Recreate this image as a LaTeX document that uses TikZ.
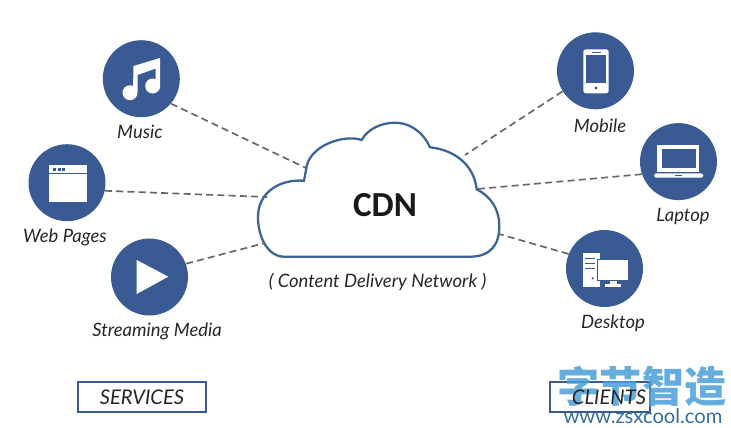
\documentclass[tikz,border=0pt]{standalone}
\usepackage{fontspec}
\setmainfont{Lato}
\newfontfamily\cdnfont{Carlito}
\newfontfamily\cjkfont{Noto Sans CJK SC}
\definecolor{hubblue}{HTML}{3A5A94}
\definecolor{cloudline}{HTML}{3D6496}
\definecolor{dashgray}{HTML}{666666}
\definecolor{markblue}{HTML}{4A9FD8}
\tikzset{
    hub/.style={circle, fill=hubblue, minimum size=1.54cm, inner sep=0pt},
    hand/.style={font=\itshape\fontsize{10.5}{13}\selectfont, text=black!85, inner sep=0pt},
    capshand/.style={font=\itshape\fontsize{11.5}{13}\selectfont, text=black!85, inner sep=0pt},
    link/.style={dash pattern=on 4pt off 2.4pt, dashgray, line width=0.95pt},
    sidebox/.style={draw=hubblue, line width=1.1pt, minimum height=0.6cm, inner sep=0pt, fill=white},
}

\begin{document}
\begin{tikzpicture}[x=0.02cm, y=-0.02cm]
    \useasboundingbox (0,0) rectangle (731,427);

    \node[hub] (music) at (141.3,78.7) {};
    \node[hub] (web) at (67,182.7) {};
    \node[hub] (stream) at (149.5,277) {};
    \node[hub] (mobile) at (595.5,70.8) {};
    \node[hub] (laptop) at (678.5,161.6) {};
    \node[hub] (desktop) at (604.5,268.5) {};

    % cloud
    \draw[cloudline, line width=1.3pt, fill=white] (283.3,256.7) -- (470,256.7)
        .. controls (490,256.7) and (499.3,245) .. (499.3,226.7)
        .. controls (499.3,208) and (490,196) .. (476.7,189.3)
        .. controls (474,165) and (455,150) .. (430,147.3)
        .. controls (422,130) and (408,122.7) .. (395,122.7)
        .. controls (380,122.7) and (367,130) .. (361.7,140)
        .. controls (345,134) and (308,145) .. (306,170)
        -- (304,180.7)
        .. controls (280,179) and (258,192) .. (258,217)
        .. controls (258,240) and (270,256.7) .. (283.3,256.7) -- cycle;

    \coordinate (cloudmusic) at (306,168);
    \coordinate (cloudweb) at (267,197);
    \coordinate (cloudstream) at (265,243);
    \coordinate (cloudmobile) at (465,155);
    \coordinate (cloudlaptop) at (477,189);
    \coordinate (clouddesktop) at (499,234);

    \draw[link] (music.-40) -- (cloudmusic);
    \draw[link] (web.-12) -- (cloudweb);
    \draw[link] (stream.20) -- (cloudstream);
    \draw[link] (mobile.212) -- (cloudmobile);
    \draw[link] (laptop.199) -- (cloudlaptop);
    \draw[link] (desktop.158) -- (clouddesktop);

    % music icon
    \fill[white] (133,92) -- (133.5,66) -- (160,58) -- (160,86) -- (155.7,86)
        -- (155.7,68.5) -- (137.5,75) -- (137.5,92) -- cycle;
    \fill[white] (130,92.7) circle (7.5);
    \fill[white] (152.7,86) circle (7.5);

    % web page icon
    \fill[white] (49.3,165) rectangle (86.7,202.3);
    \draw[hubblue, line width=0.5pt] (49.3,173.3) -- (86.7,173.3);
    \foreach \x in {53,57.5,62} \fill[hubblue] (\x,168) rectangle (\x+3.2,171);

    % play icon
    \fill[white] (136.7,260) -- (168.3,276.7) -- (136.7,294) -- cycle;

    % phone icon
    \fill[white, rounded corners=1.5pt] (583.3,49.3) rectangle (608.7,93.3);
    \fill[hubblue] (586,55) rectangle (606,83.3);
    \draw[hubblue, line width=0.5pt] (591.7,52) -- (600.7,52);
    \fill[hubblue] (596,88) circle (1.7);

    % laptop icon
    \fill[white] (657.3,145.3) rectangle (699,171.7);
    \fill[hubblue] (662.3,149.3) rectangle (695.7,168.3);
    \fill[white, rounded corners=1pt] (654,173.3) rectangle (703.3,177.7);
    \fill[hubblue] (675,174.5) rectangle (682,175.7);

    % desktop icon
    \fill[white] (583.3,253.3) rectangle (600,286.7);
    \foreach \y in {258.3,263.3,268.3} \draw[hubblue, line width=0.5pt] (585,\y) -- (595,\y);
    \fill[hubblue] (592.7,278.3) circle (1.2);
    \fill[white, draw=hubblue, line width=0.6pt] (597.7,259.3) rectangle (628.3,280.7);
    \fill[white] (610,281) rectangle (616.7,284);
    \fill[white] (605,284) rectangle (620.7,286.7);

    \node[font=\cdnfont\bfseries\fontsize{20}{22}\selectfont, text=black!90, inner sep=0pt] (cdn) at (385,205) {CDN};
    \node[hand] (cdnname) at (377.5,282) {( Content Delivery Network )};

    \node[hand] (musiclabel) at (140,132) {Music};
    \node[hand] (weblabel) at (65,237) {Web Pages};
    \node[hand] (streamlabel) at (157,331) {Streaming Media};
    \node[hand] (mobilelabel) at (600,126) {Mobile};
    \node[hand] (laptoplabel) at (683,216.7) {Laptop};
    \node[hand] (desktoplabel) at (613,323) {Desktop};

    \node[sidebox, minimum width=128*0.02cm] (services) at (142,397) {};
    \node[capshand] (serviceslabel) at (142,397) {SERVICES};
    \node[sidebox, minimum width=100*0.02cm] (clients) at (600,397) {};

    % watermark
    \node[font=\cjkfont\bfseries\fontsize{24}{26}\selectfont, text=markblue, opacity=0.85, inner sep=0pt] (marktext) at (642,386) {字节智造};
    \node[capshand] (clientslabel) at (609,397) {CLIENTS};
    \node[font=\fontsize{11.5}{13}\selectfont, text=markblue!70!black, inner sep=0pt] (markurl) at (643,416.5) {www.zsxcool.com};
\end{tikzpicture}
\end{document}
